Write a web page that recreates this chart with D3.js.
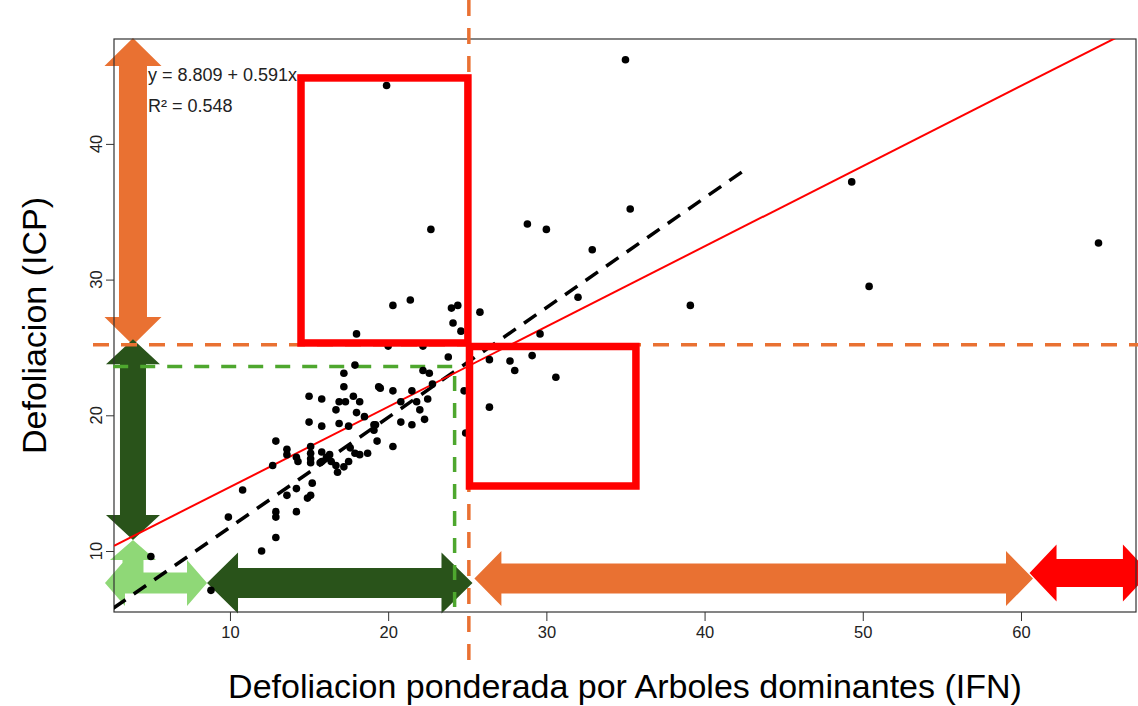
<!DOCTYPE html>
<html><head><meta charset="utf-8">
<script src="https://cdn.jsdelivr.net/npm/d3@7"></script>
<style>
body{margin:0;background:#fff}
svg{display:block}
text{font-family:"Liberation Sans",Arial,Helvetica,sans-serif}
</style>
</head><body>
<svg id="chart" width="1138" height="706"></svg>
<script>
// ---------------- data ----------------
const ifn = [18.0,17.9,17.2,17.2,15.0,15.8,16.9,17.3,17.8,18.2,16.7,18.0,18.5,19.4,15.0,15.8,16.9,17.5,19.1,24.1,
             24.6,20.0,22.2,23.8,22.2,22.6,19.5,20.3,21.5,22.8,22.5,21.8,20.8,22.0,22.3,20.8,21.5,19.2,19.1,24.8,
             24.9,12.9,13.6,13.6,14.2,14.3,15.1,15.1,15.1,15.1,15.8,15.8,16.1,16.3,16.4,15.7,16.7,16.8,17.2,17.5,
             17.6,17.9,18.2,18.7,19.3,20.3,12.7,15.2,14.2,13.6,15.1,14.9,14.2,12.9,12.9,12.9,10.8,9.9,12.0,5.0,
             8.8,26.4,27.7,28.0,26.4,29.1,30.6,29.6,32.0,32.9,28.8,30.0,35.3,35.0,19.9,22.7,20.3,21.4,24.0,24.4,
             25.8,39.1,49.3,50.4,64.9];
const icp = [26.0,23.7,23.1,22.1,21.4,21.2,21.0,21.0,21.4,21.0,20.4,20.2,19.9,22.1,19.5,19.2,19.4,19.2,19.3,26.8,
             26.2,25.1,25.1,24.3,23.3,23.1,22.0,21.8,21.8,22.3,21.2,21.0,21.0,20.4,19.7,19.5,19.3,19.3,18.9,21.8,
             18.7,18.1,17.5,17.1,16.9,16.6,17.7,17.2,16.8,16.5,17.3,16.6,16.9,17.1,16.6,16.5,16.3,15.8,16.2,16.6,
             17.6,17.2,17.1,17.2,18.1,17.7,16.3,15.0,14.6,14.1,14.1,13.9,12.9,12.9,12.5,11.0,14.5,12.5,10.0,9.6,
             7.1,24.1,24.0,23.3,20.6,24.4,22.8,26.0,28.7,32.2,34.1,33.7,35.2,46.2,44.3,33.7,28.1,28.5,27.9,28.1,
             27.6,28.1,37.2,29.5,32.7];
const xTicks = [10,20,30,40,50,60];
const yTicks = [10,20,30,40];
const regCoef = [8.809, 0.591];              // intercept, slope
const eqLabels = ["y = 8.809 + 0.591x", "R\u00B2 = 0.548"];
const refLineX = [2.62, 42.36];              // black dashed line
const refLineY = [5.78, 37.93];
const ifnCut = 25.1, icpCut = 25.2;          // orange dashed thresholds
const greenCutX = 24.2, greenCutY = 23.6;    // green dashed thresholds
// red boxes
const boxX0 = [14.49, 25.14], boxX1 = [25.04, 35.66];
const boxY0 = [25.33, 14.79], boxY1 = [44.86, 25.07];
// double arrows (vertical: x, from, to) (horizontal: y, from, to)
const vArrowX = [3.87, 3.87], vArrowFrom = [47.8, 25.6], vArrowTo = [25.18, 10.81];
const vArrowColor = ["orange", "darkgreen"];
const hArrowY = [7.64, 7.97, 8.38], hArrowFrom = [8.55, 25.45, 60.54], hArrowTo = [25.33, 60.76, 68.15];
const hArrowColor = ["darkgreen", "orange", "red"];
// three-way arrow (left, right, up)
const triArrow = [3.87, 7.64, 10.81, 2.10, 8.55];   // cx, cy, upTip, leftTip, rightTip
const xTitle = "Defoliacion ponderada por Arboles dominantes (IFN)";
const yTitle = "Defoliacion (ICP)";

// ---------------- styles ----------------
const COL = {orange:"#E97132", darkgreen:"#29531A", lightgreen:"#8FD877", green:"#4EA72E", red:"#FF0000"};
const W = 1138, H = 706;
const M = {left:114, right:1136, top:39, bottom:612};

const svg = d3.select("#chart");
const x = d3.scaleLinear().domain([2.67, 67.27]).range([M.left, M.right]);
const y = d3.scaleLinear().domain([5.505, 47.73]).range([M.bottom, M.top]);

svg.append("defs").append("clipPath").attr("id","plotclip")
  .append("rect").attr("x",M.left).attr("y",M.top).attr("width",M.right-M.left).attr("height",M.bottom-M.top);

// ---------------- arrows (underneath) ----------------
function dblArrow(x1,y1,x2,y2,sw,hw,hl){
  const L = Math.hypot(x2-x1,y2-y1), a = Math.atan2(y2-y1,x2-x1);
  const pts = [[0,0],[hl,-hw/2],[hl,-sw/2],[L-hl,-sw/2],[L-hl,-hw/2],[L,0],[L-hl,hw/2],[L-hl,sw/2],[hl,sw/2],[hl,hw/2]];
  return "M" + pts.map(([u,v]) => [x1+u*Math.cos(a)-v*Math.sin(a), y1+u*Math.sin(a)+v*Math.cos(a)].map(d=>d.toFixed(2)).join(",")).join("L") + "Z";
}
const arrowG = svg.append("g");
const vSize = [[28,57,28],[26,54,25]];
vArrowX.forEach((vx,i)=>{
  const [sw,hw,hl] = vSize[i];
  arrowG.append("path").attr("d", dblArrow(x(vx), y(vArrowFrom[i]), x(vx), y(vArrowTo[i]), sw, hw, hl))
    .attr("fill", COL[vArrowColor[i]]);
});
const hSize = [[30,61,31],[30,55,27],[28,57,27]];
hArrowY.forEach((hy,i)=>{
  const [sw,hw,hl] = hSize[i];
  arrowG.append("path").attr("d", dblArrow(x(hArrowFrom[i]), y(hy), x(hArrowTo[i]), y(hy), sw, hw, hl))
    .attr("fill", COL[hArrowColor[i]]);
});
(function(){
  const cx = x(triArrow[0]), cy = y(triArrow[1]), up = y(triArrow[2]), xl = x(triArrow[3]), xr = x(triArrow[4]);
  const sw = 21, hw = 46, hl = 20;
  const p = [[xl,cy],[xl+hl,cy-hw/2],[xl+hl,cy-sw/2],[cx-sw/2,cy-sw/2],[cx-sw/2,up+hl],[cx-hw/2,up+hl],[cx,up],
             [cx+hw/2,up+hl],[cx+sw/2,up+hl],[cx+sw/2,cy-sw/2],[xr-hl,cy-sw/2],[xr-hl,cy-hw/2],[xr,cy],
             [xr-hl,cy+hw/2],[xr-hl,cy+sw/2],[xl+hl,cy+sw/2],[xl+hl,cy+hw/2]];
  arrowG.append("path").attr("d","M"+p.map(d=>d.join(",")).join("L")+"Z").attr("fill",COL.lightgreen);
})();

// ---------------- frame & axes ----------------
svg.append("rect").attr("x",M.left).attr("y",M.top).attr("width",M.right-M.left).attr("height",M.bottom-M.top)
  .attr("fill","none").attr("stroke","#333").attr("stroke-width",1.2);

const xAxis = svg.append("g").attr("transform",`translate(0,${M.bottom})`)
  .call(d3.axisBottom(x).tickValues(xTicks).tickSize(9).tickPadding(5).tickFormat(d3.format("d")));
xAxis.select(".domain").remove();
xAxis.selectAll("line").attr("stroke","#333");
xAxis.selectAll("text").attr("font-size",16.5).attr("fill","#222")
  .style("font-family",'"Liberation Sans",Arial,sans-serif');

const yAxis = svg.append("g").attr("transform",`translate(${M.left},0)`)
  .call(d3.axisLeft(y).tickValues(yTicks).tickSize(8).tickFormat(""));
yAxis.select(".domain").remove();
yAxis.selectAll("line").attr("stroke","#333");
svg.append("g").selectAll("text").data(yTicks).join("text")
  .attr("transform", d => `translate(102,${y(d)}) rotate(-90)`)
  .attr("text-anchor","middle").attr("font-size",16.5).attr("fill","#222").text(d => d);

// titles
svg.append("text").attr("x",(M.left+M.right)/2).attr("y",698).attr("text-anchor","middle")
  .attr("font-size",34).attr("fill","#000").text(xTitle);
svg.append("text").attr("transform",`translate(46,${(M.top+M.bottom)/2}) rotate(-90)`)
  .attr("text-anchor","middle").attr("font-size",34).attr("fill","#000").text(yTitle);

// ---------------- threshold dashed lines ----------------
svg.append("line").attr("x1",x(ifnCut)).attr("x2",x(ifnCut)).attr("y1",0).attr("y2",668)
  .attr("stroke",COL.orange).attr("stroke-width",3.5).attr("stroke-dasharray","16,12");
svg.append("line").attr("x1",93).attr("x2",W).attr("y1",y(icpCut)).attr("y2",y(icpCut))
  .attr("stroke",COL.orange).attr("stroke-width",3.5).attr("stroke-dasharray","16,12");
svg.append("path")
  .attr("d",`M${x(refLineX[0])},${y(greenCutY)}H${x(greenCutX)}V${M.bottom}`)
  .attr("fill","none").attr("stroke",COL.green).attr("stroke-width",3.5).attr("stroke-dasharray","15,12");

// ---------------- data layer ----------------
const plotG = svg.append("g").attr("clip-path","url(#plotclip)");
plotG.append("line")
  .attr("x1",x(refLineX[0])).attr("y1",y(refLineY[0])).attr("x2",x(refLineX[1])).attr("y2",y(refLineY[1]))
  .attr("stroke","#000").attr("stroke-width",3.5).attr("stroke-dasharray","15,10");
const xd = x.domain();
plotG.append("line")
  .attr("x1",x(xd[0])).attr("y1",y(regCoef[0]+regCoef[1]*xd[0]))
  .attr("x2",x(xd[1])).attr("y2",y(regCoef[0]+regCoef[1]*xd[1]))
  .attr("stroke",COL.red).attr("stroke-width",2);
plotG.selectAll("circle").data(ifn).join("circle")
  .attr("cx",(d)=>x(d)).attr("cy",(d,i)=>y(icp[i])).attr("r",3.8).attr("fill","#000");

// equation text
svg.selectAll("text.eq").data(eqLabels).join("text").attr("class","eq")
  .attr("x",148).attr("y",(d,i)=>81+i*31).attr("font-size",18).attr("fill","#222").text(d=>d);

// ---------------- red boxes ----------------
svg.append("g").selectAll("rect").data(boxX0).join("rect")
  .attr("x",(d)=>x(d)).attr("y",(d,i)=>y(boxY1[i]))
  .attr("width",(d,i)=>x(boxX1[i])-x(d)).attr("height",(d,i)=>y(boxY0[i])-y(boxY1[i]))
  .attr("fill","none").attr("stroke",COL.red).attr("stroke-width",7.5);
</script>
</body></html>
